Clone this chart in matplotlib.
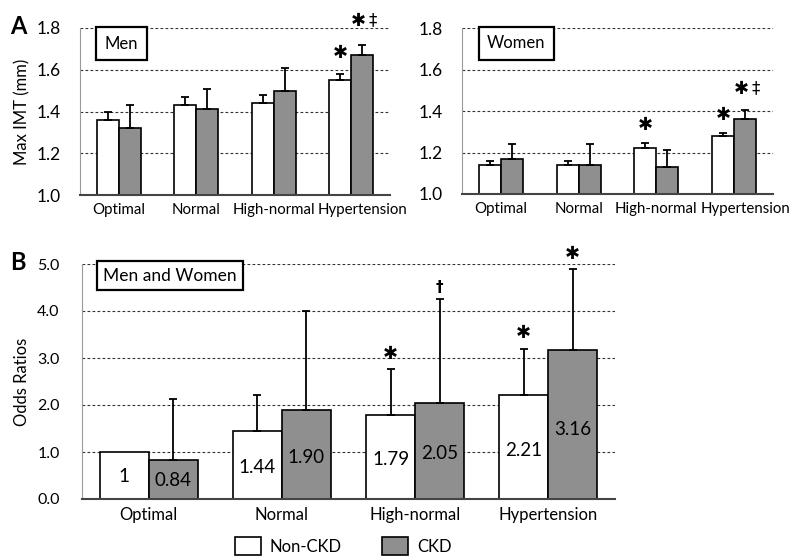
import matplotlib.pyplot as plt
import matplotlib.transforms as mtransforms
import numpy as np
from matplotlib.patches import Patch

plt.rcParams["font.family"] = ["Lato", "DejaVu Sans"]

categories = ["Optimal", "Normal", "High-normal", "Hypertension"]

# panel A, max IMT (mm), bar height and upper error length
men_non = [1.36, 1.43, 1.44, 1.55]
men_non_err = [0.04, 0.04, 0.04, 0.03]
men_ckd = [1.32, 1.41, 1.50, 1.67]
men_ckd_err = [0.11, 0.10, 0.11, 0.05]
men_marks_non = ["", "", "", "*"]
men_marks_ckd = ["", "", "", "*‡"]

women_non = [1.14, 1.14, 1.22, 1.28]
women_non_err = [0.02, 0.02, 0.025, 0.015]
women_ckd = [1.17, 1.14, 1.13, 1.36]
women_ckd_err = [0.07, 0.10, 0.08, 0.045]
women_marks_non = ["", "", "*", "*"]
women_marks_ckd = ["", "", "", "*‡"]

# panel B, odds ratios
or_non = [1.00, 1.44, 1.79, 2.21]
or_non_err = [0.0, 0.78, 0.98, 0.99]
or_ckd = [0.84, 1.90, 2.05, 3.16]
or_ckd_err = [1.29, 2.11, 2.21, 1.73]
or_non_labels = ["1", "1.44", "1.79", "2.21"]
or_ckd_labels = ["0.84", "1.90", "2.05", "3.16"]
or_marks_non = ["", "", "*", "*"]
or_marks_ckd = ["", "", "†", "*"]

GRAY = "#8f8f8f"
W, H = 793, 556
STAR = "\u2731"


def px_axes(fig, left, top, right, bottom):
	return fig.add_axes([left / W, (H - bottom) / H, (right - left) / W, (bottom - top) / H])


def style_axes(ax, ticks, fmt, tick_size, pad):
	for s in ["top", "right"]:
		ax.spines[s].set_visible(False)
	ax.spines["left"].set_color("#9a9a9a")
	ax.spines["left"].set_linewidth(0.8)
	ax.spines["bottom"].set_color("#444444")
	ax.spines["bottom"].set_linewidth(1.5)
	ax.set_yticks(ticks)
	ax.set_yticklabels([fmt % t for t in ticks], fontsize=tick_size)
	ax.tick_params(axis="both", length=0)
	ax.tick_params(axis="y", pad=pad)
	ax.tick_params(axis="x", pad=6)
	for t in ticks[1:]:
		ax.axhline(t, color="#333333", linewidth=0.8, dashes=(2.5, 2.0), zorder=0)


def put_mark(ax, xi, y, mark, offs):
	kw = dict(xy=(xi, y), textcoords="offset points", ha="center", va="center", annotation_clip=False)
	if mark == "*":
		ax.annotate(STAR, xytext=(0, offs), fontsize=13, family="DejaVu Sans", **kw)
	elif mark == "*‡":
		ax.annotate(STAR, xytext=(-3, offs + 2), fontsize=13, family="DejaVu Sans", **kw)
		ax.annotate("‡", xytext=(7.5, offs + 3), fontsize=12, family="DejaVu Sans", **kw)
	else:
		ax.annotate(mark, xytext=(0, offs - 3), fontsize=11, family="DejaVu Sans", fontweight="bold", **kw)


def draw_pairs(ax, non, non_err, ckd, ckd_err, width, marks_non, marks_ckd, offs):
	x = np.arange(len(categories))
	for xs, vals, errs, color, marks in [
		(x - width / 2, non, non_err, "white", marks_non),
		(x + width / 2, ckd, ckd_err, GRAY, marks_ckd),
	]:
		ax.bar(xs, vals, width=width, color=color, edgecolor="black", linewidth=1.2, zorder=2)
		for xi, v, e, m in zip(xs, vals, errs, marks):
			if e > 0:
				ax.errorbar(xi, v, yerr=[[0], [e]], color="black", linewidth=1.3, capsize=3, capthick=1.3, zorder=3)
			if m:
				put_mark(ax, xi, v + e, m, offs)
	ax.set_xticks(x)
	ax.set_xlim(-0.5, len(categories) - 0.5)


def shift_last_label(fig, ax, dx_px):
	lab = ax.get_xticklabels()[-1]
	lab.set_transform(lab.get_transform() + mtransforms.ScaledTranslation(dx_px / 100, 0, fig.dpi_scale_trans))


fig = plt.figure(figsize=(W / 100, H / 100), dpi=100)

# Men
ax_m = px_axes(fig, 80, 28, 390, 195)
ax_m.set_ylim(1.0, 1.8)
style_axes(ax_m, [1.0, 1.2, 1.4, 1.6, 1.8], "%.1f", 12.5, 14)
draw_pairs(ax_m, men_non, men_non_err, men_ckd, men_ckd_err, 0.284, men_marks_non, men_marks_ckd, 15)
ax_m.set_xticklabels(categories, fontsize=10.8)
shift_last_label(fig, ax_m, 11)
ax_m.set_ylabel("Max IMT (mm)", fontsize=12, labelpad=4)
ax_m.text(0.08, 0.955, "Men", transform=ax_m.transAxes, fontsize=12, ha="left", va="top",
		  bbox=dict(boxstyle="square,pad=0.5", facecolor="white", edgecolor="black", linewidth=1.6))
fig.text(10 / W, 1 - 26 / H, "A", fontsize=17, fontweight="bold", va="center")

# Women
ax_w = px_axes(fig, 462, 28, 773, 194)
ax_w.set_ylim(1.0, 1.8)
style_axes(ax_w, [1.0, 1.2, 1.4, 1.6, 1.8], "%.1f", 12.5, 14)
draw_pairs(ax_w, women_non, women_non_err, women_ckd, women_ckd_err, 0.284, women_marks_non, women_marks_ckd, 13)
ax_w.set_xticklabels(categories, fontsize=10.8)
shift_last_label(fig, ax_w, 11)
ax_w.text(0.08, 0.955, "Women", transform=ax_w.transAxes, fontsize=12, ha="left", va="top",
		  bbox=dict(boxstyle="square,pad=0.5", facecolor="white", edgecolor="black", linewidth=1.6))

# Men and Women odds ratios
ax_b = px_axes(fig, 82, 264, 615, 499)
ax_b.set_ylim(0, 5.0)
style_axes(ax_b, [0, 1, 2, 3, 4, 5], "%.1f", 11.5, 16)
draw_pairs(ax_b, or_non, or_non_err, or_ckd, or_ckd_err, 0.368, or_marks_non, or_marks_ckd, 11)
ax_b.set_xticklabels(categories, fontsize=12)
ax_b.set_ylabel("Odds Ratios", fontsize=12, labelpad=5)
xb = np.arange(len(categories))
for xi, v, lab in zip(xb - 0.184, or_non, or_non_labels):
	ax_b.text(xi, v * 0.47, lab, ha="center", va="center", fontsize=13.5, zorder=4)
for xi, v, lab in zip(xb + 0.184, or_ckd, or_ckd_labels):
	ax_b.text(xi, v * 0.47, lab, ha="center", va="center", fontsize=13.5, zorder=4)
ax_b.text(0.04, 0.985, "Men and Women", transform=ax_b.transAxes, fontsize=12.5, ha="left", va="top",
		  bbox=dict(boxstyle="square,pad=0.35", facecolor="white", edgecolor="black", linewidth=1.6))
fig.text(10 / W, 1 - 262 / H, "B", fontsize=17, fontweight="bold", va="center")

handles = [Patch(facecolor="white", edgecolor="black", linewidth=1.2),
		   Patch(facecolor=GRAY, edgecolor="black", linewidth=1.2)]
fig.legend(handles, ["Non-CKD", "CKD"], loc="center", bbox_to_anchor=(343 / W, 1 - 546 / H),
		   ncol=2, frameon=False, fontsize=12, handlelength=1.6, handleheight=1.2,
		   columnspacing=2.4, handletextpad=0.5)

fig.savefig("out.png", dpi=100)
